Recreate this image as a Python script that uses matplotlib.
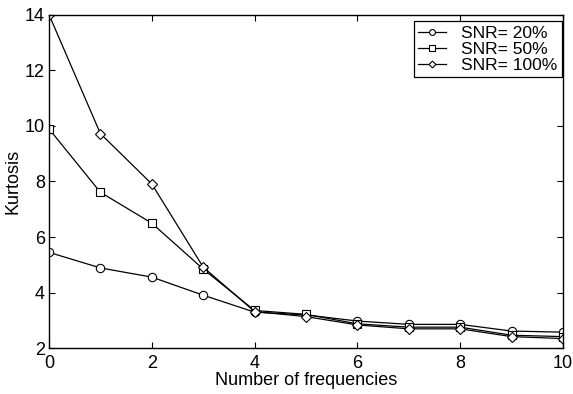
import matplotlib
matplotlib.use('Agg')
import matplotlib.pyplot as plt
import numpy as np

plt.rcParams['font.family'] = ['Liberation Sans', 'DejaVu Sans']

# data
freqs = [0, 1, 2, 3, 4, 5, 6, 7, 8, 9, 10]
snr20 = [5.45, 4.89, 4.56, 3.91, 3.30, 3.20, 2.98, 2.86, 2.86, 2.62, 2.58]
snr50 = [9.89, 7.61, 6.50, 4.85, 3.36, 3.22, 2.88, 2.76, 2.76, 2.47, 2.42]
snr100 = [14.0, 9.72, 7.91, 4.92, 3.32, 3.14, 2.84, 2.70, 2.70, 2.42, 2.35]
labels = ['SNR= 20%', 'SNR= 50%', 'SNR= 100%']

fig = plt.figure(figsize=(5.73, 3.94), dpi=100)
ax = fig.add_axes([0.0855, 0.116, 0.897, 0.847])

mk = dict(color='k', lw=0.9, mfc='white', mec='k', mew=0.8, ms=6)
ax.plot(freqs, snr20, marker='o', label=labels[0], **mk)
ax.plot(freqs, snr50, marker='s', label=labels[1], **dict(mk, ms=5.5))
ax.plot(freqs, snr100, marker='D', label=labels[2], **dict(mk, ms=5))

ax.set_xlim(0, 10)
ax.set_ylim(2, 14)
ax.set_xticks([0, 2, 4, 6, 8, 10])
ax.set_yticks([2, 4, 6, 8, 10, 12, 14])
ax.tick_params(direction='in', top=True, right=True, labelsize=13, length=4)
ax.tick_params(axis='x', pad=5)
ax.tick_params(axis='y', pad=3)
for s in ax.spines.values():
    s.set_linewidth(1.0)
ax.set_xlabel('Number of frequencies', fontsize=13, labelpad=0)
ax.set_ylabel('Kurtosis', fontsize=13, labelpad=2)

leg = ax.legend(loc='upper right', fontsize=12.5, fancybox=False, framealpha=1,
                edgecolor='k', handlelength=1.6, borderaxespad=0.0,
                bbox_to_anchor=(0.998, 0.98),
                labelspacing=0.05, borderpad=0.25, handletextpad=0.9,
                markerscale=0.7)
leg.get_frame().set_linewidth(0.9)

fig.savefig('out.png', dpi=100)
